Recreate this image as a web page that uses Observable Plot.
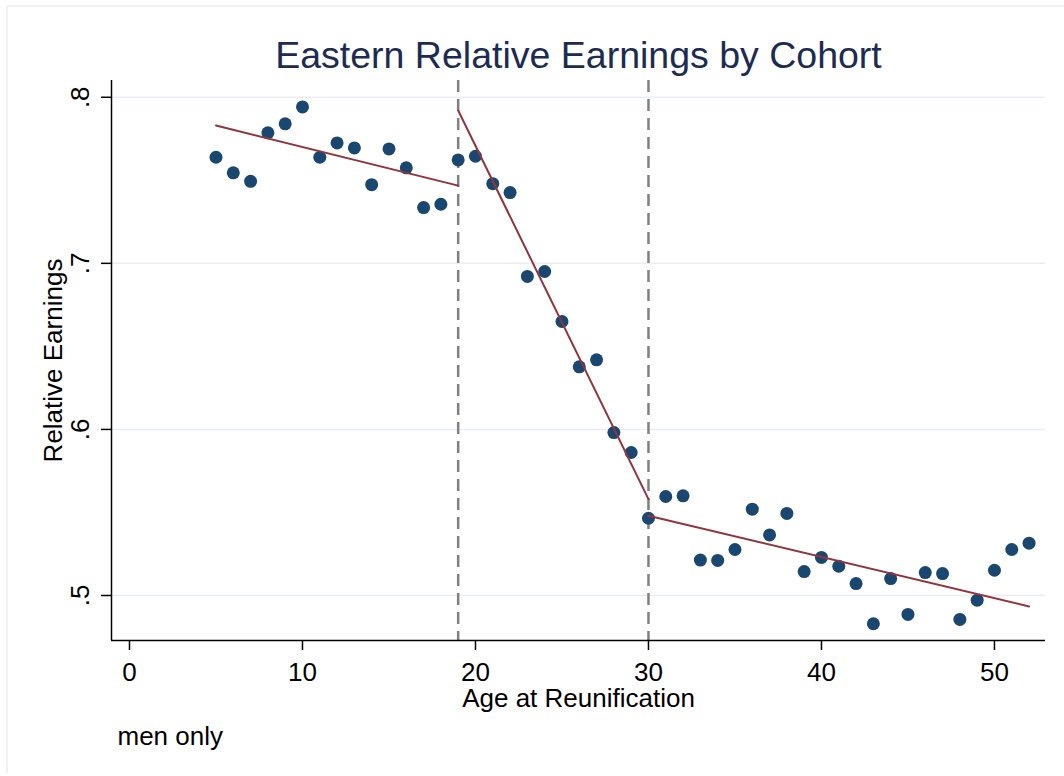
<!DOCTYPE html>
<html><head><meta charset="utf-8">
<script src="https://cdn.jsdelivr.net/npm/d3@7"></script>
<script src="https://cdn.jsdelivr.net/npm/@observablehq/plot@0.6"></script>
<style>
html,body{margin:0;padding:0;background:#fff;}
#chart{position:relative;width:1064px;height:776px;overflow:hidden;}
#chart svg{display:block;position:absolute;left:0;top:0;}
#edge{position:absolute;left:6px;top:5px;width:1070px;height:766px;border-top:2px solid #eef1f5;border-left:2px solid #eef1f5;}
</style></head><body><div id="chart"><div id="edge"></div></div>
<script>
// Age at reunification and eastern relative earnings
const ages = [5,6,7,8,9,10,11,12,13,14,15,16,17,18,19,20,21,22,23,24,25,26,27,28,
  29,30,31,32,33,34,35,36,37,38,39,40,41,42,43,44,45,46,47,48,49,50,51,52];
const earnings = [0.7639,0.7545,0.7494,0.7786,0.7840,0.7942,0.7639,0.7725,0.7695,0.7474,
  0.7689,0.7575,0.7336,0.7356,0.7623,0.7645,0.7480,0.7426,0.6921,0.6951,0.6650,0.6377,
  0.6419,0.5981,0.5861,0.5465,0.5596,0.5600,0.5213,0.5211,0.5277,0.5520,0.5365,0.5494,
  0.5144,0.5229,0.5176,0.5072,0.4830,0.5102,0.4886,0.5138,0.5132,0.4856,0.4972,0.5152,
  0.5277,0.5315];
// Fitted segments (endpoints of each linear fit)
const fitSegment = ["pre","pre","mid","mid","post","post"];
const fitAge = [5,19,19,30,30,52];
const fitValue = [0.7830,0.7468,0.7920,0.5580,0.5480,0.4934];
const cutoffs = [19,30];
const xTicks = [0,10,20,30,40,50];
const yTicks = [0.5,0.6,0.7,0.8];
const yTickLabels = [".5",".6",".7",".8"];
const titleText = "Eastern Relative Earnings by Cohort";
const xTitle = "Age at Reunification";
const yTitle = "Relative Earnings";
const note = "men only";

const points = ages.map((a,i)=>({age:a, value:earnings[i]}));
const fits = fitAge.map((a,i)=>({age:a, value:fitValue[i], segment:fitSegment[i]}));
const xDomain = [-1.04, 52.95];
const yDomain = [0.4729, 0.8101];

const chart = Plot.plot({
  width:1064, height:776,
  marginLeft:111, marginRight:19, marginTop:80, marginBottom:136,
  x:{domain:xDomain}, y:{domain:yDomain},
  style:{fontFamily:"'Liberation Sans', Arial, sans-serif", fontSize:"26px", color:"#000", background:"transparent", overflow:"visible"},
  marks:[
    Plot.ruleY(yTicks,{stroke:"#e9eef3", strokeWidth:1.5}),
    Plot.ruleX(cutoffs,{stroke:"#808080", strokeWidth:2.5, strokeDasharray:"12,7"}),
    Plot.dot(points,{x:"age", y:"value", r:6.5, fill:"#1a476f", stroke:"none"}),
    Plot.line(fits,{x:"age", y:"value", z:"segment", stroke:"#90353b", strokeWidth:2}),
    Plot.ruleY([yDomain[0]],{stroke:"#000", strokeWidth:1.5}),
    Plot.ruleX([xDomain[0]],{stroke:"#000", strokeWidth:1.5}),
    Plot.axisX({ticks:xTicks, tickSize:10, tickPadding:12.5, label:null, fontSize:26, strokeWidth:1.5}),
    Plot.axisY({ticks:yTicks, tickSize:10, tickFormat:()=>"", label:null, strokeWidth:1.5}),
    Plot.text(yTicks,{y:d=>d, text:(d,i)=>yTickLabels[i], frameAnchor:"left", dx:-23, rotate:-90,
      textAnchor:"middle", lineAnchor:"bottom", fontSize:26, fill:"#000"}),
    Plot.text([yTitle],{frameAnchor:"left", dx:-50, rotate:-90, textAnchor:"middle", lineAnchor:"bottom", fontSize:26, fill:"#000"}),
    Plot.text([xTitle],{frameAnchor:"bottom", dy:66, textAnchor:"middle", lineAnchor:"bottom", fontSize:26, fill:"#000"}),
    Plot.text([note],{frameAnchor:"bottom-left", dx:6, dy:104, textAnchor:"start", lineAnchor:"bottom", fontSize:26, fill:"#000"}),
    Plot.text([titleText],{frameAnchor:"top", dy:-13, textAnchor:"middle", lineAnchor:"bottom", fontSize:37.5, fill:"#1c2b52"})
  ]
});
document.getElementById("chart").appendChild(chart);
</script>
</body></html>
